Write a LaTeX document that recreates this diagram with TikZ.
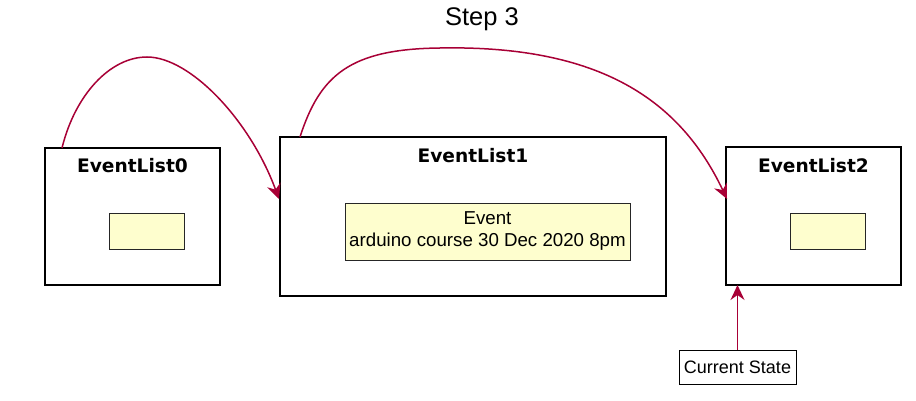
\documentclass[tikz,border=0pt]{standalone}
\usepackage{fontspec}
\setmainfont{Liberation Sans}
\newfontfamily\boxtitlefont{DejaVu Sans}
\usetikzlibrary{arrows.meta}
\definecolor{arrowred}{HTML}{A80036}
\definecolor{evyellow}{HTML}{FEFECE}
\tikzset{
  listbox/.style={draw=black, line width=2pt, fill=white, inner sep=0pt, outer sep=0pt},
  boxtitle/.style={inner sep=0pt, font=\boxtitlefont\bfseries\fontsize{18.6}{21}\selectfont},
  eventbox/.style={draw=black!85, line width=1pt, fill=evyellow, inner sep=0pt, outer sep=0pt, align=center,
    font=\fontsize{18.7}{22}\selectfont},
  statebox/.style={draw=black, line width=1pt, fill=white, inner sep=0pt, outer sep=0pt,
    font=\fontsize{18}{20}\selectfont},
  link/.style={draw=arrowred, line width=1.5pt, -{Stealth[length=15pt, width=14pt, inset=5pt]}},
}
\begin{document}
\begin{tikzpicture}[x=1pt, y=-1pt]
\useasboundingbox[fill=white] (0,0) rectangle (916,401);

\node[font=\fontsize{25.5}{28}\selectfont, inner sep=0pt] (title) at (482,19) {Step 3};

% EventList0
\node[listbox, minimum width=175, minimum height=137] (el0) at (132.5,216.5) {};
\node[boxtitle] (el0t) at (132.5,166) {EventList0};
\node[eventbox, minimum width=75, minimum height=36] (el0i) at (146.5,231) {};

% EventList1
\node[listbox, minimum width=386, minimum height=159] (el1) at (473,216.5) {};
\node[boxtitle] (el1t) at (473,156) {EventList1};
\node[eventbox, minimum width=285, minimum height=57] (el1i) at (487.5,231.5) {Event\\arduino course 30 Dec 2020 8pm};

% EventList2
\node[listbox, minimum width=175, minimum height=138] (el2) at (813.5,216) {};
\node[boxtitle] (el2t) at (813.5,166) {EventList2};
\node[eventbox, minimum width=75, minimum height=36] (el2i) at (827.5,231) {};

% Current State
\node[statebox, minimum width=117, minimum height=34] (cs) at (737.5,367) {Current State};

% connectors
\coordinate (a0s) at (62,148);
\coordinate (a0e) at (279,199);
\coordinate (a1s) at (300,137);
\coordinate (a1e) at (727,199);
\path[link] (a0s) .. controls (75,95) and (110,57) .. (147,57)
  .. controls (190,57) and (250,120) .. (a0e);
\path[link] (a1s) .. controls (320,75) and (350,49) .. (440,48)
  .. controls (600,45) and (680,100) .. (a1e);
\path[link] (cs.north) -- (cs.north |- el2.south);
\end{tikzpicture}
\end{document}
